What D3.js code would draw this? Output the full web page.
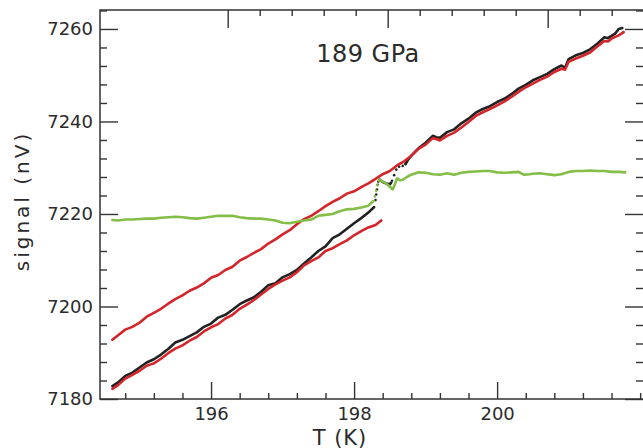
<!DOCTYPE html>
<html>
<head>
<meta charset="utf-8">
<script src="https://cdn.jsdelivr.net/npm/d3@7"></script>
<style>
  html, body { margin: 0; padding: 0; background: #fff; }
  svg { display: block; }
  text { font-family: "DejaVu Sans", sans-serif; fill: #2b2b2b; }
</style>
</head>
<body>
<svg id="chart" width="643" height="448"></svg>
<script>
// Signal vs temperature, 189 GPa run

// lower black trace (solid, before the step)
const blackLowT = [194.62,194.7,194.8,194.9,195.0,195.1,195.2,195.3,195.4,195.5,195.6,195.7,195.8,195.9,196.0,196.1,196.2,196.3,196.4,196.5,196.6,196.7,196.8,196.9,197.0,197.1,197.2,197.3,197.4,197.5,197.6,197.7,197.8,197.9,198.0,198.1,198.2,198.28];
const blackLowV = [7182.8,7183.6,7185.0,7185.7,7186.8,7187.9,7188.6,7189.6,7190.8,7192.2,7192.8,7193.6,7194.4,7195.6,7196.3,7197.6,7198.2,7199.3,7200.5,7201.3,7202.0,7203.2,7204.6,7205.0,7206.3,7207.0,7207.9,7209.3,7210.6,7212.0,7213.0,7214.8,7215.6,7216.8,7218.0,7219.1,7220.3,7221.5];
// black step (sparse points)
const blackStepT = [198.30,198.31,198.32,198.33,198.34,198.36,198.53,198.56,198.59,198.63,198.68,198.72];
const blackStepV = [7223.0,7224.2,7225.3,7226.3,7227.0,7227.4,7227.2,7228.4,7229.6,7230.2,7230.4,7230.8];
// black dip just after the step
const blackDipT = [198.36,198.40,198.45,198.50,198.52];
const blackDipV = [7227.4,7226.9,7226.6,7226.4,7226.8];
// upper black trace
const blackHighT = [198.72,198.75,198.8,198.9,199.0,199.1,199.15,199.2,199.3,199.4,199.5,199.6,199.7,199.8,199.9,200.0,200.1,200.2,200.3,200.4,200.5,200.6,200.7,200.8,200.9,200.95,201.0,201.1,201.2,201.3,201.4,201.5,201.55,201.6,201.65,201.7,201.75];
const blackHighV = [7230.8,7231.6,7232.6,7234.2,7235.4,7236.9,7236.6,7236.5,7237.7,7238.3,7239.6,7240.6,7241.9,7242.7,7243.3,7244.2,7244.9,7245.9,7247.1,7247.9,7248.9,7249.6,7250.3,7251.3,7252.1,7251.6,7253.5,7254.3,7254.8,7255.6,7256.8,7258.2,7258.0,7258.5,7259.0,7260.0,7260.2];

// upper red trace
const redUpT = [194.62,194.7,194.8,194.9,195.0,195.1,195.2,195.3,195.4,195.5,195.6,195.7,195.8,195.9,196.0,196.1,196.2,196.3,196.4,196.5,196.6,196.7,196.8,196.9,197.0,197.1,197.2,197.3,197.4,197.5,197.6,197.7,197.8,197.9,198.0,198.1,198.2,198.3,198.4,198.5,198.6,198.7,198.8,198.9,199.0,199.1,199.15,199.2,199.3,199.4,199.5,199.6,199.7,199.8,199.9,200.0,200.1,200.2,200.3,200.4,200.5,200.6,200.7,200.8,200.9,200.95,201.0,201.1,201.2,201.3,201.4,201.5,201.55,201.6,201.7,201.77];
const redUpV = [7192.8,7193.8,7195.0,7195.6,7196.5,7197.8,7198.6,7199.5,7200.6,7201.6,7202.4,7203.4,7204.1,7205.0,7206.2,7206.8,7207.9,7208.6,7209.9,7210.7,7211.6,7212.4,7213.6,7214.5,7215.6,7216.5,7217.8,7218.9,7219.6,7220.6,7221.7,7222.6,7223.4,7224.4,7224.9,7225.8,7226.6,7227.6,7228.6,7229.3,7230.5,7231.4,7232.6,7234.1,7235.0,7236.4,7236.2,7235.9,7236.9,7237.6,7238.7,7239.9,7241.2,7242.0,7242.7,7243.5,7244.3,7245.3,7246.4,7247.4,7248.2,7249.0,7249.7,7250.7,7251.4,7251.2,7252.9,7253.6,7254.2,7254.9,7256.2,7257.4,7257.3,7257.9,7258.6,7259.3];

// lower red trace
const redLowT = [194.62,194.7,194.8,194.9,195.0,195.1,195.2,195.3,195.4,195.5,195.6,195.7,195.8,195.9,196.0,196.1,196.2,196.3,196.4,196.5,196.6,196.7,196.8,196.9,197.0,197.1,197.2,197.3,197.4,197.5,197.6,197.7,197.8,197.9,198.0,198.1,198.2,198.3,198.38];
const redLowV = [7182.2,7183.0,7184.4,7185.2,7186.1,7187.2,7187.7,7188.7,7189.9,7190.9,7191.6,7192.6,7193.4,7194.6,7195.5,7196.2,7197.4,7198.2,7199.5,7200.4,7201.4,7202.6,7203.8,7204.8,7205.6,7206.3,7207.4,7208.9,7209.8,7210.6,7212.0,7212.6,7213.5,7214.3,7215.4,7216.3,7217.1,7217.6,7218.6];

// green trace: before step, step points, after step
const greenLowT = [194.62,194.7,194.8,194.9,195.0,195.1,195.2,195.3,195.4,195.5,195.6,195.7,195.8,195.9,196.0,196.1,196.2,196.3,196.4,196.5,196.6,196.7,196.8,196.9,197.0,197.1,197.2,197.3,197.4,197.5,197.6,197.7,197.8,197.9,198.0,198.1,198.2,198.27];
const greenLowV = [7218.7,7218.6,7218.8,7218.8,7218.9,7219.0,7219.0,7219.2,7219.3,7219.4,7219.3,7219.1,7219.0,7219.2,7219.4,7219.6,7219.6,7219.6,7219.3,7219.1,7219.0,7219.0,7218.8,7218.6,7218.1,7218.0,7218.3,7218.6,7218.8,7219.6,7219.8,7220.0,7220.6,7221.0,7221.1,7221.4,7221.8,7222.8];
const greenStepT = [198.29,198.31,198.33,198.35];
const greenStepV = [7223.8,7225.0,7226.2,7227.2];
const greenHighT = [198.36,198.4,198.45,198.5,198.54,198.57,198.6,198.64,198.68,198.75,198.8,198.9,199.0,199.1,199.2,199.3,199.4,199.5,199.6,199.7,199.8,199.9,200.0,200.1,200.2,200.3,200.37,200.45,200.5,200.6,200.7,200.8,200.9,201.0,201.1,201.2,201.3,201.4,201.5,201.6,201.7,201.79];
const greenHighV = [7227.4,7227.0,7226.6,7225.9,7225.3,7226.4,7227.7,7227.3,7227.4,7228.1,7228.5,7229.0,7228.9,7228.6,7228.5,7228.8,7228.5,7228.9,7229.1,7229.2,7229.3,7229.3,7229.0,7228.9,7229.0,7229.1,7228.5,7228.6,7228.7,7228.8,7228.6,7228.4,7228.6,7229.1,7229.3,7229.3,7229.4,7229.3,7229.3,7229.1,7229.1,7229.0];

// axis ticks
const xMajorTicks = [196, 198, 200];
const xMinorTicks = [194.8, 195.2, 195.6, 196.4, 196.8, 197.2, 197.6, 198.4, 198.8, 199.2, 199.6, 200.4, 200.8, 201.2, 201.6, 202.0];
const yMajorTicks = [7180, 7200, 7220, 7240, 7260];
const yMinorTicks = [7184, 7188, 7192, 7196, 7204, 7208, 7212, 7216, 7224, 7228, 7232, 7236, 7244, 7248, 7252, 7256, 7264];
// secondary (unlabelled) top axis
const topMajorTicks = [1, 2, 3];
const topMinorTicks = [1.2, 1.4, 1.6, 1.8, 2.2, 2.4, 2.6, 2.8, 3.2, 3.4];

const titleText = "189 GPa";
const xTitle = "T (K)";
const yTitle = "signal (nV)";

const colBlack = "#222222";
const colRed = "#d4252b";
const colGreen = "#84bd47";
const colAxis = "#333333";

const plotLeft = 100, plotTop = 10, plotRight = 643, plotBottom = 399;

const svg = d3.select("#chart");

const x = d3.scaleLinear().domain([194.447, 202.04]).range([plotLeft, plotRight]);
const y = d3.scaleLinear().domain([7180, 7264.1]).range([plotBottom, plotTop]);
const xTop = d3.scaleLinear().domain([0.2019, 3.5956]).range([plotLeft, plotRight]);

const zip = (ts, vs) => ts.map((t, i) => [t, vs[i]]);
const line = d3.line().x(d => x(d[0])).y(d => y(d[1]));

const plot = svg.append("g");

function drawLine(ts, vs, color) {
  plot.append("path")
    .datum(zip(ts, vs))
    .attr("d", line)
    .attr("fill", "none")
    .attr("stroke", color)
    .attr("stroke-width", 2.6)
    .attr("stroke-linejoin", "round")
    .attr("stroke-linecap", "round");
}
function drawDots(ts, vs, color) {
  plot.append("g").selectAll("circle")
    .data(zip(ts, vs))
    .join("circle")
    .attr("cx", d => x(d[0]))
    .attr("cy", d => y(d[1]))
    .attr("r", 1.3)
    .attr("fill", color);
}

drawLine(blackLowT, blackLowV, colBlack);
drawLine(blackDipT, blackDipV, colBlack);
drawDots(blackStepT, blackStepV, colBlack);
drawLine(blackHighT, blackHighV, colBlack);
drawLine(redUpT, redUpV, colRed);
drawLine(redLowT, redLowV, colRed);
drawLine(greenLowT, greenLowV, colGreen);
drawDots(greenStepT, greenStepV, colGreen);
drawLine(greenHighT, greenHighV, colGreen);

// axes with inward ticks
function styleAxis(g) {
  g.select(".domain").remove();
  g.selectAll(".tick line").attr("stroke", colAxis).attr("stroke-width", 1.4);
  g.selectAll(".tick text")
    .attr("fill", "#2b2b2b")
    .style("font-family", "'DejaVu Sans', sans-serif")
    .style("font-size", "18px");
}

svg.append("g").attr("transform", `translate(${plotLeft},0)`)
  .call(d3.axisLeft(y).tickValues(yMinorTicks).tickSize(-7).tickFormat(""))
  .call(styleAxis);
svg.append("g").attr("transform", `translate(${plotLeft},0)`)
  .call(d3.axisLeft(y).tickValues(yMajorTicks).tickSize(-18).tickPadding(7).tickFormat(d3.format("d")))
  .call(styleAxis);

svg.append("g").attr("transform", `translate(${plotRight},0)`)
  .call(d3.axisRight(y).tickValues(yMinorTicks).tickSize(-7).tickFormat(""))
  .call(styleAxis);
svg.append("g").attr("transform", `translate(${plotRight},0)`)
  .call(d3.axisRight(y).tickValues(yMajorTicks).tickSize(-18).tickFormat(""))
  .call(styleAxis);

svg.append("g").attr("transform", `translate(0,${plotBottom})`)
  .call(d3.axisBottom(x).tickValues(xMinorTicks).tickSize(-6).tickFormat(""))
  .call(styleAxis);
svg.append("g").attr("transform", `translate(0,${plotBottom})`)
  .call(d3.axisBottom(x).tickValues(xMajorTicks).tickSize(-17).tickPadding(8).tickFormat(d3.format("d")))
  .call(styleAxis);

svg.append("g").attr("transform", `translate(0,${plotTop})`)
  .call(d3.axisTop(xTop).tickValues(topMinorTicks).tickSize(-6).tickFormat(""))
  .call(styleAxis);
svg.append("g").attr("transform", `translate(0,${plotTop})`)
  .call(d3.axisTop(xTop).tickValues(topMajorTicks).tickSize(-18).tickFormat(""))
  .call(styleAxis);

// frame
svg.append("path")
  .attr("d", `M${plotRight + 1},${plotTop}H${plotLeft}V${plotBottom}H${plotRight + 1}`)
  .attr("fill", "none")
  .attr("stroke", colAxis)
  .attr("stroke-width", 1.5);

// titles
svg.append("text")
  .attr("x", 368).attr("y", 61.5)
  .attr("text-anchor", "middle")
  .style("font-size", "24px")
  .style("letter-spacing", "0.5px")
  .text(titleText);

svg.append("text")
  .attr("x", 340).attr("y", 445)
  .attr("text-anchor", "middle")
  .style("font-size", "21px")
  .style("letter-spacing", "1px")
  .text(xTitle);

svg.append("text")
  .attr("transform", "translate(28.5,201) rotate(-90)")
  .attr("text-anchor", "middle")
  .style("font-size", "20px")
  .style("letter-spacing", "3px")
  .text(yTitle);
</script>
</body>
</html>
